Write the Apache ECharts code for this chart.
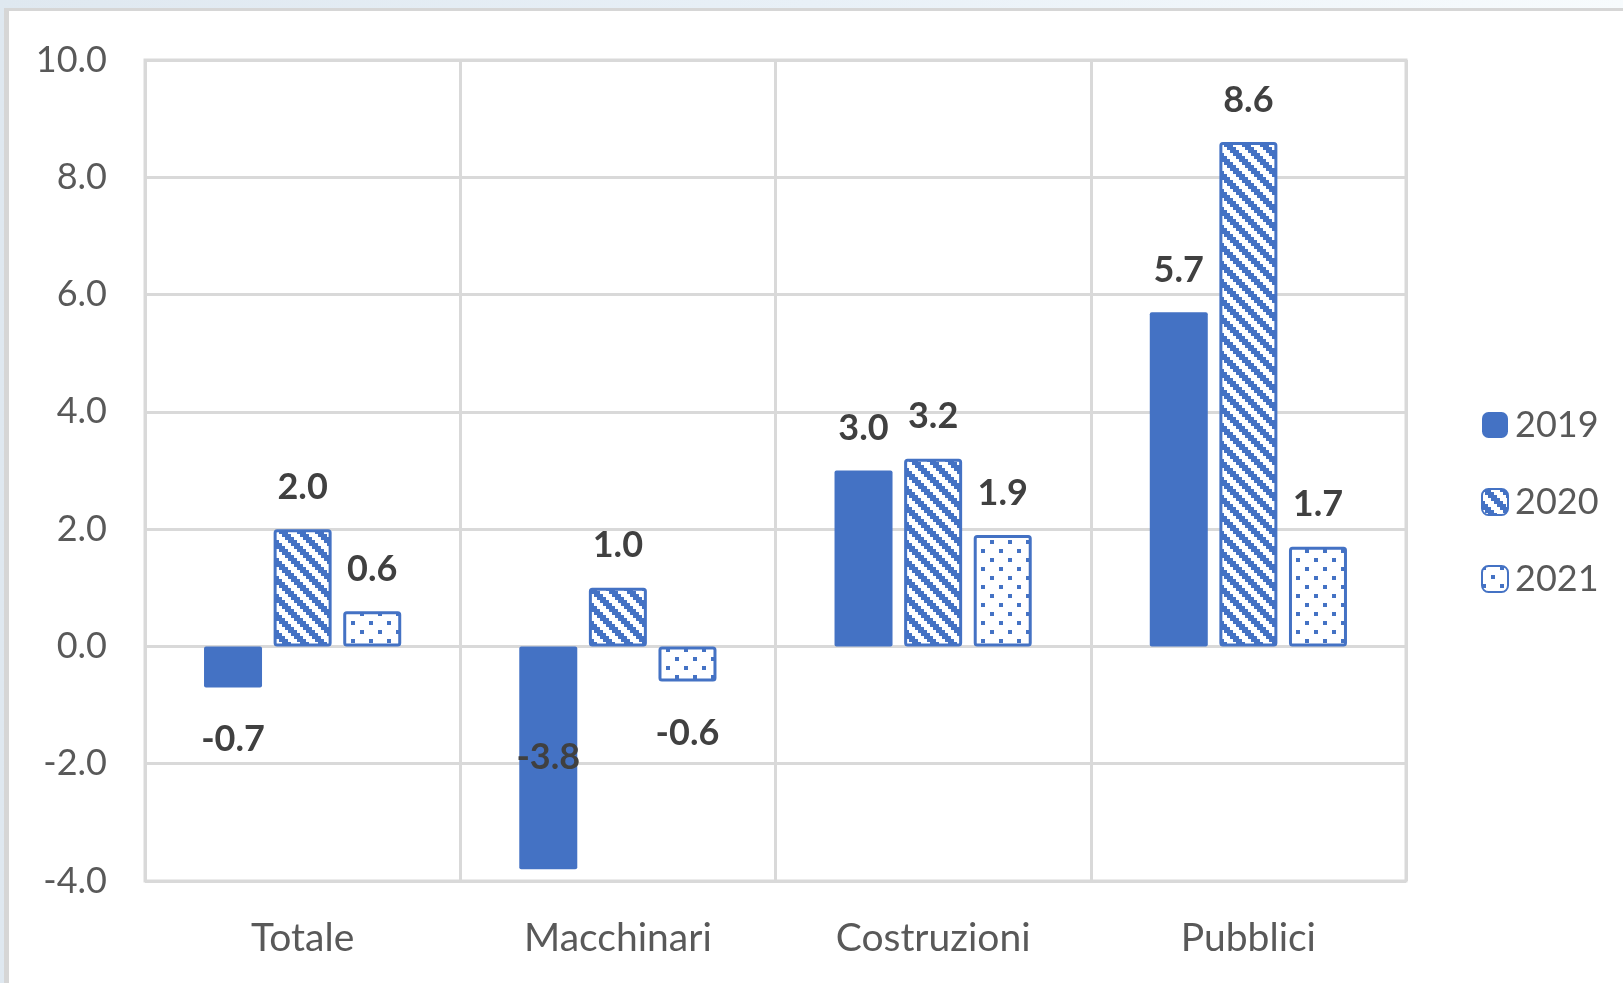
<!DOCTYPE html>
<html>
<head>
<meta charset="utf-8">
<script src="https://cdn.jsdelivr.net/npm/echarts@6/dist/echarts.min.js"></script>
<style>
  html, body { margin: 0; padding: 0; width: 1623px; height: 983px; overflow: hidden; }
  body { background: linear-gradient(90deg, #dfe8f0 0%, #e8f0f7 50%, #f7fbfd 100%); position: relative; }
  .panel { position: absolute; left: 4px; top: 8px; right: 0; bottom: 0; background: #fff;
           border-left: 5px solid #d6d6d6; border-top: 3px solid #d6d6d6; }
  #chart { position: absolute; left: 0; top: 0; width: 1623px; height: 983px; }
</style>
</head>
<body>
<div class="panel"></div>
<div id="chart"></div>
<script>
// dati
const categorie = ['Totale', 'Macchinari', 'Costruzioni', 'Pubblici']
const anni = ['2019', '2020', '2021']
const val2019 = [-0.7, -3.8, 3.0, 5.7]
const val2020 = [2.0, 1.0, 3.2, 8.6]
const val2021 = [0.6, -0.6, 1.9, 1.7]
const yTicks = { min: -4, max: 10, step: 2 }

const BLU = '#4472c4'
const FONT = 'Lato, "Open Sans", sans-serif'

// motivo a strisce diagonali (2020)
const strisce = () => {
  const c = document.createElement('canvas')
  c.width = 18
  c.height = 18
  const ctx = c.getContext('2d')
  ctx.fillStyle = '#fff'
  ctx.fillRect(0, 0, 18, 18)
  ctx.fillStyle = BLU
  for (let y = 0; y < 6; y++) {
    for (let x = 0; x < 6; x++) {
      if (((x - y) % 6 + 6) % 6 < 3) ctx.fillRect(x * 3, y * 3, 3, 3)
    }
  }
  return c
}
// motivo a punti (2021)
const punti = () => {
  const c = document.createElement('canvas')
  c.width = 18
  c.height = 18
  const ctx = c.getContext('2d')
  ctx.fillStyle = '#fff'
  ctx.fillRect(0, 0, 18, 18)
  ctx.fillStyle = BLU
  ctx.fillRect(0, 0, 4, 4)
  ctx.fillRect(9, 9, 4, 4)
  return c
}

// posizione etichetta in base al valore
const conEtichette = (arr) => arr.map((v) => {
  if (v < -2) return { value: v, label: { position: 'inside' } }
  if (v < 0) return { value: v, label: { position: 'bottom', distance: 34 } }
  return { value: v, label: { position: 'top' } }
})

const chart = echarts.init(document.getElementById('chart'))

const labelStyle = {
  show: true,
  distance: 24,
  fontFamily: FONT,
  fontSize: 36,
  fontWeight: 'bold',
  color: '#404040',
  formatter: (p) => p.value.toFixed(1)
}

const option = {
  animation: false,
  textStyle: { fontFamily: FONT },
  grid: {
    left: 145, right: 217, top: 60, bottom: 102,
    show: true, borderColor: '#d9d9d9', borderWidth: 3
  },
  legend: {
    data: anni,
    orient: 'vertical',
    left: 1476,
    top: 402,
    itemWidth: 26,
    itemHeight: 26,
    itemGap: 41,
    icon: 'roundRect',
    textStyle: { fontFamily: FONT, fontSize: 36, color: '#595959', padding: [0, 0, 0, 2] }
  },
  xAxis: {
    type: 'category',
    data: categorie,
    axisLine: { show: false },
    axisTick: { show: false },
    axisLabel: { fontFamily: FONT, fontSize: 39, color: '#595959', margin: 38 },
    splitLine: { show: true, interval: 0, lineStyle: { color: '#d9d9d9', width: 3 } }
  },
  yAxis: {
    type: 'value',
    min: yTicks.min,
    max: yTicks.max,
    interval: yTicks.step,
    axisLine: { show: false },
    axisTick: { show: false },
    axisLabel: {
      fontFamily: FONT, fontSize: 36, color: '#595959', margin: 38,
      formatter: (v) => v.toFixed(1)
    },
    splitLine: { lineStyle: { color: '#d9d9d9', width: 3 } }
  },
  series: [
    {
      name: anni[0],
      type: 'bar',
      data: conEtichette(val2019),
      barWidth: 58,
      barGap: '20%',
      itemStyle: { color: BLU, borderRadius: 2 },
      label: labelStyle
    },
    {
      name: anni[1],
      type: 'bar',
      data: conEtichette(val2020),
      barWidth: 58,
      barGap: '20%',
      itemStyle: { color: { image: strisce(), repeat: 'repeat' }, borderColor: BLU, borderWidth: 3, borderRadius: 2 },
      label: labelStyle
    },
    {
      name: anni[2],
      type: 'bar',
      data: conEtichette(val2021),
      barWidth: 58,
      barGap: '20%',
      itemStyle: { color: { image: punti(), repeat: 'repeat' }, borderColor: BLU, borderWidth: 3, borderRadius: 2 },
      label: labelStyle
    }
  ]
}
chart.setOption(option)
</script>
</body>
</html>
